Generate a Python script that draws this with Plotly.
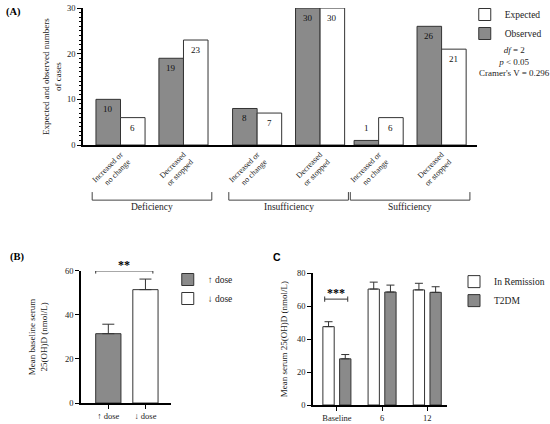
import plotly.graph_objects as go

# ---------------- data ----------------
a_categories = ["Increased or<br>no change", "Decreased<br>or stopped"] * 3
a_groups = ["Deficiency", "Insufficiency", "Sufficiency"]
a_observed = [10, 19, 8, 30, 1, 26]
a_expected = [6, 23, 7, 30, 6, 21]
a_stats = "<i>df</i> = 2<br><i>p</i> &lt; 0.05<br>Cramer's V = 0.296"

b_categories = ["↑ dose", "↓ dose"]
b_means = [31.5, 51.5]
b_sem = [4.3, 4.8]

c_categories = ["Baseline", "6", "12"]
c_remission = [47.5, 70.3, 69.8]
c_remission_err = [3.0, 4.2, 4.0]
c_t2dm = [28.0, 68.5, 68.3]
c_t2dm_err = [2.6, 4.2, 3.4]

# ---------------- layout constants ----------------
FONT = "Liberation Serif"
GRAY = "#8a8a8a"
EDGE = "#333333"
a_pos = [0, 1, 2.17, 3.17, 4.1, 5.1]   # category positions (groups of two)
A_OFF = 0.39                            # bar width in panel A

fig = go.Figure()

# ---- Panel A ----
fig.add_trace(go.Bar(
    x=a_pos, y=a_observed, name="Observed", offset=-A_OFF, width=A_OFF,
    marker=dict(color=GRAY, line=dict(color=EDGE, width=1)),
    xaxis="x", yaxis="y", legend="legend", legendrank=2))
fig.add_trace(go.Bar(
    x=a_pos, y=a_expected, name="Expected", offset=0, width=A_OFF,
    marker=dict(color="white", line=dict(color=EDGE, width=1)),
    xaxis="x", yaxis="y", legend="legend", legendrank=1))

# ---- Panel B ----
b_colors = [GRAY, "white"]
for i, (cat, m, e) in enumerate(zip(b_categories, b_means, b_sem)):
    fig.add_trace(go.Bar(
        x=[i], y=[m], name=cat, offset=-0.34, width=0.68,
        marker=dict(color=b_colors[i], line=dict(color=EDGE, width=1)),
        error_y=dict(type="data", array=[e], arrayminus=[0], symmetric=False,
                     color=EDGE, thickness=1, width=6),
        xaxis="x2", yaxis="y2", legend="legend2"))

# ---- Panel C ----
c_x = list(range(len(c_categories)))
fig.add_trace(go.Bar(
    x=c_x, y=c_remission, name="In Remission", offset=-0.31, width=0.25,
    marker=dict(color="white", line=dict(color=EDGE, width=1)),
    error_y=dict(type="data", array=c_remission_err, arrayminus=[0] * 3,
                 symmetric=False, color=EDGE, thickness=1, width=4),
    xaxis="x3", yaxis="y3", legend="legend3"))
fig.add_trace(go.Bar(
    x=c_x, y=c_t2dm, name="T2DM", offset=0.06, width=0.25,
    marker=dict(color=GRAY, line=dict(color=EDGE, width=1)),
    error_y=dict(type="data", array=c_t2dm_err, arrayminus=[0] * 3,
                 symmetric=False, color=EDGE, thickness=1, width=4),
    xaxis="x3", yaxis="y3", legend="legend3"))

axis_common = dict(showline=True, linecolor="black", linewidth=1.5,
                   showgrid=False, zeroline=False, ticks="outside",
                   ticklen=4, tickwidth=1.2, tickcolor="black",
                   tickfont=dict(family=FONT, size=8.5, color="#222"))

shapes = []
annotations = []

# value labels on panel A bars (inside near top, or above when the bar is short)
for series, shift in ((a_observed, -A_OFF / 2), (a_expected, A_OFF / 2)):
    for p, v in zip(a_pos, series):
        annotations.append(dict(
            text=str(v), xref="x", yref="y", x=p + shift, y=v,
            yshift=-10 if v >= 3 else 12, xanchor="center", yanchor="middle",
            showarrow=False, font=dict(family=FONT, size=9, color="#111")))

# group brackets for panel A
for g, name in enumerate(a_groups):
    x0 = a_pos[2 * g] - 0.45
    x1 = a_pos[2 * g + 1] + 0.45
    ytop, ybot = 0.547, 0.528
    for (xa, ya, xb, yb) in [(x0, ytop, x0, ybot), (x0, ybot, x1, ybot), (x1, ybot, x1, ytop)]:
        shapes.append(dict(type="line", xref="x", yref="paper", x0=xa, y0=ya, x1=xb, y1=yb,
                           line=dict(color="#444", width=1)))
    annotations.append(dict(text=name, xref="x", yref="paper", xanchor="center",
                            x=(a_pos[2 * g] + a_pos[2 * g + 1]) / 2, y=0.512,
                            showarrow=False, font=dict(family=FONT, size=9.5, color="#222")))

# significance bracket B
bx0, bx1, by = -0.34, 1.2, 60
shapes += [
    dict(type="line", xref="x2", yref="y2", x0=bx0, x1=bx1, y0=by, y1=by, line=dict(color=EDGE, width=1)),
    dict(type="line", xref="x2", yref="y2", x0=bx0, x1=bx0, y0=by - 1.2, y1=by + 1.2, line=dict(color=EDGE, width=1)),
    dict(type="line", xref="x2", yref="y2", x0=bx1, x1=bx1, y0=by - 1.2, y1=by + 1.2, line=dict(color=EDGE, width=1)),
]
annotations.append(dict(text="<b>**</b>", xref="x2", yref="y2", x=(bx0 + bx1) / 2, y=by,
                        xanchor="center", yanchor="bottom", showarrow=False, yshift=-3,
                        font=dict(family=FONT, size=12, color="black")))

# significance bracket C
cx0, cx1, cy = -0.27, 0.24, 64.2
shapes += [
    dict(type="line", xref="x3", yref="y3", x0=cx0, x1=cx1, y0=cy, y1=cy, line=dict(color=EDGE, width=1)),
    dict(type="line", xref="x3", yref="y3", x0=cx0, x1=cx0, y0=cy - 1.6, y1=cy + 1.6, line=dict(color=EDGE, width=1)),
    dict(type="line", xref="x3", yref="y3", x0=cx1, x1=cx1, y0=cy - 1.6, y1=cy + 1.6, line=dict(color=EDGE, width=1)),
]
annotations.append(dict(text="<b>***</b>", xref="x3", yref="y3", x=(cx0 + cx1) / 2, y=cy,
                        xanchor="center", yanchor="bottom", showarrow=False, yshift=-3,
                        font=dict(family=FONT, size=12, color="black")))

# panel labels and statistics
annotations += [
    dict(text="<b>(A)</b>", xref="paper", yref="paper", x=0.025, y=0.972, showarrow=False,
         xanchor="center", yanchor="middle", font=dict(family=FONT, size=10.5, color="black")),
    dict(text="<b>(B)</b>", xref="paper", yref="paper", x=0.031, y=0.394, showarrow=False,
         xanchor="center", yanchor="middle", font=dict(family=FONT, size=10.5, color="black")),
    dict(text="<b>C</b>", xref="paper", yref="paper", x=0.504, y=0.394, showarrow=False,
         xanchor="center", yanchor="middle", font=dict(family="Liberation Sans", size=10.5, color="black")),
    dict(text=a_stats, xref="paper", yref="paper", x=0.936, y=0.854, showarrow=False,
         xanchor="center", yanchor="middle",
         align="center", font=dict(family=FONT, size=9, color="#222")),
]

legend_common = dict(bgcolor="rgba(0,0,0,0)", font=dict(family=FONT, size=9.5, color="#222"),
                     yanchor="top", itemwidth=30, tracegroupgap=0)

fig.update_layout(
    width=550, height=424, margin=dict(l=0, r=0, t=0, b=0, autoexpand=False),
    paper_bgcolor="white", plot_bgcolor="white",
    barmode="overlay",
    font=dict(family=FONT, color="#222"),
    xaxis=dict(axis_common, domain=[0.151, 0.867], range=[-0.595, 5.66], anchor="y",
               tickvals=a_pos, ticktext=a_categories, ticks="", tickangle=-45,
               tickfont=dict(family=FONT, size=8, color="#222")),
    yaxis=dict(axis_common, domain=[0.658, 0.981], range=[0, 30], tickvals=[0, 10, 20, 30],
               anchor="x",
               minor=dict(ticks="outside", dtick=1, ticklen=2.5, tickcolor="black", tickwidth=1),
               title=dict(text="Expected and observed numbers<br>of cases",
                          font=dict(family=FONT, size=9, color="#222"), standoff=4)),
    xaxis2=dict(axis_common, domain=[0.147, 0.311], range=[-0.74, 1.69], anchor="y2",
                tickvals=[0, 1], ticktext=b_categories),
    yaxis2=dict(axis_common, domain=[0.0495, 0.361], range=[0, 60], tickvals=[0, 20, 40, 60],
                anchor="x2",
                title=dict(text="Mean baseline serum<br>25(OH)D (nmol/L)",
                           font=dict(family=FONT, size=9, color="#222"), standoff=16)),
    xaxis3=dict(axis_common, domain=[0.569, 0.813], range=[-0.53, 2.44], anchor="y3",
                tickvals=c_x, ticktext=c_categories),
    yaxis3=dict(axis_common, domain=[0.0448, 0.356], range=[0, 80], tickvals=[0, 20, 40, 60, 80],
                anchor="x3",
                title=dict(text="Mean serum 25(OH)D (nmol/L)",
                           font=dict(family=FONT, size=9, color="#222"), standoff=8)),
    legend=dict(legend_common, x=0.845, y=1.0, xanchor="left"),
    legend2=dict(legend_common, x=0.305, y=0.375, xanchor="left"),
    legend3=dict(legend_common, x=1.0, y=0.37, xanchor="right"),
    shapes=shapes, annotations=annotations,
)

fig.write_html("out.html", config={"displayModeBar": False},
               post_script="document.body.style.margin='0px';")
